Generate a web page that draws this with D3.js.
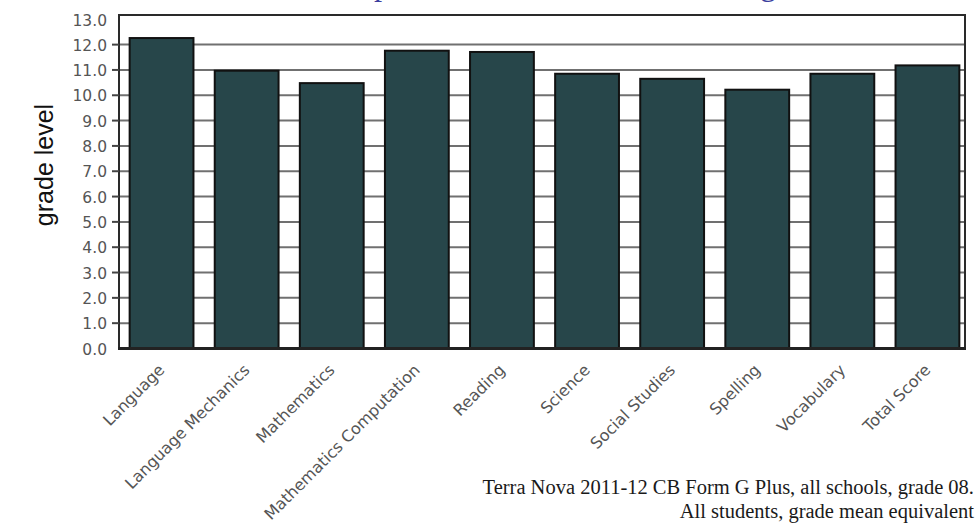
<!DOCTYPE html>
<html>
<head>
<meta charset="utf-8">
<script src="https://cdn.jsdelivr.net/npm/d3@7/dist/d3.min.js"></script>
<style>
  html, body { margin: 0; padding: 0; background: #fff; }
  svg { display: block; }
  .axis text { font-family: "DejaVu Sans", Verdana, sans-serif; fill: #555; }
</style>
</head>
<body>
<div id="chart"></div>
<script>
(function () {
  // mean grade equivalent per subject
  const categories = [
    "Language", "Language Mechanics", "Mathematics", "Mathematics Computation",
    "Reading", "Science", "Social Studies", "Spelling", "Vocabulary", "Total Score"
  ];
  const gradeLevels = [12.24, 10.95, 10.46, 11.74, 11.69, 10.83, 10.63, 10.2, 10.83, 11.16];
  const yTicks = [0, 1, 2, 3, 4, 5, 6, 7, 8, 9, 10, 11, 12, 13];
  const gridTicks = [1, 2, 3, 4, 5, 6, 7, 8, 9, 10, 11, 12];
  const yMax = 13.15;

  const title = "Comparison of Grade Level Averages";
  const yTitle = "grade level";
  const caption = [
    "Terra Nova 2011-12 CB Form G Plus, all schools, grade 08.",
    "All students, grade mean equivalent"
  ];

  const W = 977, H = 527;
  const plot = {left: 119, right: 965, top: 15, bottom: 348};

  const svg = d3.select("#chart").append("svg")
    .attr("width", W)
    .attr("height", H);

  const x = d3.scaleBand()
    .domain(categories)
    .range([plot.left, 970])
    .paddingInner(0.25)
    .paddingOuter(0.125);

  const y = d3.scaleLinear()
    .domain([0, yMax])
    .range([plot.bottom, plot.top]);

  // title, mostly cut off by the top edge (as in the source image)
  svg.append("text")
    .attr("x", 557)
    .attr("y", -5)
    .attr("text-anchor", "middle")
    .style("font-family", "'Liberation Serif', serif")
    .style("font-size", "32.7px")
    .style("fill", "#3b3f9e")
    .text(title);

  // gridlines
  svg.append("g")
    .attr("class", "grid")
    .attr("transform", "translate(" + plot.left + ",0)")
    .call(d3.axisLeft(y).tickValues(gridTicks).tickSize(-(plot.right - plot.left)).tickFormat(""))
    .call(g => g.select(".domain").remove())
    .call(g => g.selectAll("line").attr("stroke", "#707070").attr("stroke-width", 2));

  // bars
  svg.append("g")
    .selectAll("rect")
    .data(gradeLevels)
    .join("rect")
      .attr("x", (d, i) => x(categories[i]))
      .attr("y", d => y(d))
      .attr("width", x.bandwidth())
      .attr("height", d => y(0) - y(d))
      .attr("fill", "#27464a")
      .attr("stroke", "#111")
      .attr("stroke-width", 2);

  // frame
  svg.append("path")
    .attr("d", "M" + plot.left + "," + plot.bottom + "V" + plot.top + "H" + plot.right + "V" + plot.bottom)
    .attr("fill", "none")
    .attr("stroke", "#2a2a2a")
    .attr("stroke-width", 2);
  svg.append("line")
    .attr("x1", plot.left - 1).attr("x2", plot.right + 1)
    .attr("y1", plot.bottom + 0.5).attr("y2", plot.bottom + 0.5)
    .attr("stroke", "#222")
    .attr("stroke-width", 3);

  // y axis
  svg.append("g")
    .attr("class", "axis")
    .attr("transform", "translate(" + plot.left + ",0)")
    .call(d3.axisLeft(y).tickValues(yTicks).tickSize(7).tickPadding(5).tickFormat(d3.format(".1f")))
    .call(g => g.select(".domain").remove())
    .call(g => g.selectAll(".tick line")
      .attr("stroke", "#444").attr("stroke-width", 2)
      .attr("opacity", d => (d === 0 || d === 13) ? 0 : 1))
    .call(g => g.selectAll("text")
      .style("font-size", "15.5px")
      .attr("dy", "0.4em"));

  // x axis, slanted labels
  svg.append("g")
    .attr("class", "axis")
    .attr("transform", "translate(0," + plot.bottom + ")")
    .call(d3.axisBottom(x).tickSize(0))
    .call(g => g.select(".domain").remove())
    .call(g => g.selectAll("text")
      .style("font-size", "16px")
      .attr("text-anchor", "end")
      .attr("x", 0).attr("y", 0).attr("dy", 0)
      .attr("transform", "translate(4,23) rotate(-45)"));

  // y title
  svg.append("text")
    .attr("transform", "translate(53,165) rotate(-90)")
    .attr("text-anchor", "middle")
    .style("font-family", "'Liberation Sans', Arial, sans-serif")
    .style("font-size", "25px")
    .style("fill", "#111")
    .text(yTitle);

  // caption
  svg.append("g")
    .selectAll("text")
    .data(caption)
    .join("text")
      .attr("x", 974)
      .attr("y", (d, i) => 494 + i * 24)
      .attr("text-anchor", "end")
      .style("font-family", "'Liberation Serif', serif")
      .style("font-size", "20.5px")
      .style("fill", "#1a1a1a")
      .text(d => d);
})();
</script>
</body>
</html>
